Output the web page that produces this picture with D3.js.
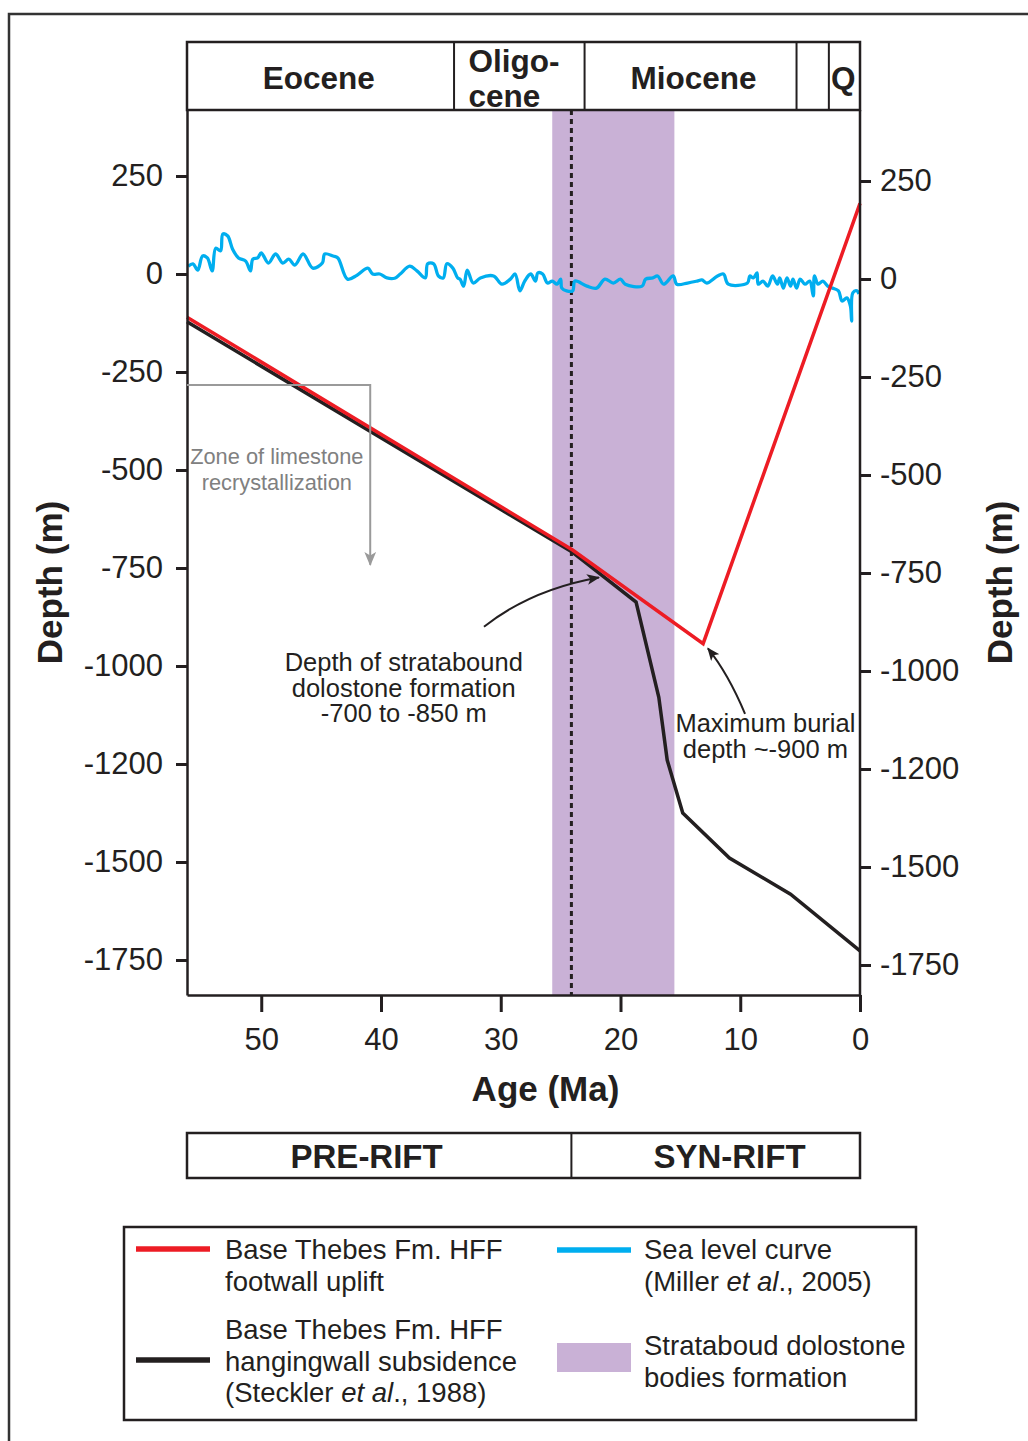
<!DOCTYPE html>
<html>
<head>
<meta charset="utf-8">
<script src="https://cdn.jsdelivr.net/npm/d3@7"></script>
<style>
    body { margin: 0; background: #fff; }
    svg text { font-family: "Liberation Sans", Arial, sans-serif; fill: #231f20; }
</style>
</head>
<body>
<div id="chart"></div>
<script>
// ages in Ma, depths in m
const footwallAge = [56.2, 24.0, 13.1, 0];
const footwallDepth = [-110, -704, -943, 180];

const hangingAge = [56.2, 24.0, 18.7, 16.8, 16.1, 14.8, 10.9, 5.8, 0];
const hangingDepth = [-122, -710, -837, -1080, -1240, -1375, -1490, -1582, -1727];

const seaAge = [56.1, 55.7, 55.3, 54.9, 54.5, 54.1, 53.8, 53.4, 53.2, 52.8,
    52.4, 51.9, 51.3, 50.9, 50.7, 50.3, 50.0, 49.4, 48.8, 48.2,
    47.7, 47.2, 46.5, 45.7, 44.9, 44.7, 44.0, 43.6, 42.8, 42.0,
    41.1, 40.7, 40.1, 39.5, 38.8, 38.4, 37.6, 37.0, 36.3, 36.1,
    35.6, 35.2, 34.8, 34.5, 34.0, 33.6, 33.4, 33.1, 32.8, 32.3,
    31.7, 30.6, 29.9, 29.2, 28.8, 28.4, 28.0, 27.5, 27.1, 26.9,
    26.5, 26.1, 25.7, 25.3, 25.0, 24.9, 24.5, 24.0, 23.8, 22.8,
    22.0, 21.3, 20.6, 20.0, 19.6, 18.2, 17.9, 17.3, 16.9, 16.4,
    15.6, 15.3, 14.4, 13.6, 13.2, 12.8, 11.9, 11.4, 11.0, 9.4,
    9.2, 8.9, 8.6, 8.5, 8.1, 7.7, 7.3, 6.9, 6.7, 6.4,
    6.1, 5.8, 5.6, 5.3, 5.0, 4.6, 4.2, 3.9, 3.8, 3.5,
    3.1, 2.7, 2.3, 1.8, 1.5, 1.1, 0.8, 0.7, 0.6, 0.25, 0.1];
const seaLevel = [20, 26, 10, 46, 41, 8, 66, 59, 102, 97,
    64, 41, 33, 8, 38, 41, 54, 28, 51, 28,
    38, 23, 51, 15, 28, 51, 46, 41, -13, -3,
    15, 0, 0, -10, -10, 0, 20, 8, -10, 26,
    26, -5, -10, 26, 15, -10, -13, -31, 10, -23,
    -10, -5, -26, -13, 0, -43, -18, 0, -18, 3,
    0, -23, -18, -26, -13, -36, -43, -43, -18, -31,
    -36, -13, -23, -13, -26, -31, -13, -10, -5, -26,
    -5, -26, -23, -18, -15, -23, -5, 0, -26, -23,
    -5, -10, 3, -26, -18, -31, -5, -26, -10, -36,
    -10, -31, -13, -36, -13, -26, -18, -56, -5, -26,
    -18, -31, -36, -43, -69, -61, -82, -120, -48, -43, -51];

const epochBounds = [56.2, 33.9, 23.0, 5.3, 2.6, 0];
const epochNames = ['Eocene', 'Oligo-|cene', 'Miocene', '', 'Q'];
const epochLabelAge = [45.2, 32.7, 13.9, 4.0, 1.4];

const riftBounds = [56.2, 24.1, 0];
const riftNames = ['PRE-RIFT', 'SYN-RIFT'];
const riftLabelAge = [41.2, 10.9];

const dolostoneBand = [25.7, 15.5];
const riftOnset = 24.1;

const depthTicks = [250, 0, -250, -500, -750, -1000, -1250, -1500, -1750];
const depthTickLabels = ['250', '0', '-250', '-500', '-750', '-1000', '-1200', '-1500', '-1750'];
const ageTicks = [50, 40, 30, 20, 10, 0];

const W = 1028, H = 1441;
const svg = d3.select('#chart').append('svg')
    .attr('width', W)
    .attr('height', H);

const x = d3.scaleLinear().domain([56.2, 0]).range([187, 860]);
const y = d3.scaleLinear().domain([418.4, -1839.3]).range([110, 995]);
// right axis is drawn a few pixels lower in the original
const yRight = d3.scaleLinear().domain([418.4, -1839.3]).range([115, 1000]);

// outer frame
svg.append('rect')
    .attr('x', 9).attr('y', 14)
    .attr('width', W + 20).attr('height', H + 20)
    .attr('fill', 'none')
    .attr('stroke', '#333').attr('stroke-width', 2.5);

const defs = svg.append('defs');
defs.append('marker')
    .attr('id', 'arrBlack')
    .attr('viewBox', '0 0 12 10')
    .attr('refX', 11).attr('refY', 5)
    .attr('markerWidth', 13).attr('markerHeight', 11)
    .attr('markerUnits', 'userSpaceOnUse')
    .attr('orient', 'auto')
    .append('path')
    .attr('d', 'M0,0 L12,5 L0,10 L3,5 Z')
    .attr('fill', '#231f20');
defs.append('marker')
    .attr('id', 'arrGray')
    .attr('viewBox', '0 0 12 10')
    .attr('refX', 11).attr('refY', 5)
    .attr('markerWidth', 14).attr('markerHeight', 12)
    .attr('markerUnits', 'userSpaceOnUse')
    .attr('orient', 'auto')
    .append('path')
    .attr('d', 'M0,0 L12,5 L0,10 L3,5 Z')
    .attr('fill', '#9a9a9a');

// dolostone band
svg.append('rect')
    .attr('x', x(dolostoneBand[0]))
    .attr('y', y.range()[0])
    .attr('width', x(dolostoneBand[1]) - x(dolostoneBand[0]))
    .attr('height', y.range()[1] - y.range()[0])
    .attr('fill', '#c9b1d6');

// rift onset dotted line
svg.append('line')
    .attr('x1', x(riftOnset)).attr('x2', x(riftOnset))
    .attr('y1', y.range()[0]).attr('y2', y.range()[1])
    .attr('stroke', '#231f20')
    .attr('stroke-width', 3)
    .attr('stroke-dasharray', '5,4');

// sea level
const seaData = seaAge.map((a, i) => [a, seaLevel[i]]);
svg.append('path')
    .datum(seaData)
    .attr('d', d3.line().x(d => x(d[0])).y(d => y(d[1])).curve(d3.curveCatmullRom.alpha(0.5)))
    .attr('fill', 'none')
    .attr('stroke', '#00aeef')
    .attr('stroke-width', 3.3)
    .attr('stroke-linejoin', 'round');

// subsidence curves
const line = d3.line().x(d => x(d[0])).y(d => y(d[1]));
svg.append('path')
    .datum(hangingAge.map((a, i) => [a, hangingDepth[i]]))
    .attr('d', line)
    .attr('fill', 'none')
    .attr('stroke', '#231f20')
    .attr('stroke-width', 3.5);
svg.append('path')
    .datum(footwallAge.map((a, i) => [a, footwallDepth[i]]))
    .attr('d', line)
    .attr('fill', 'none')
    .attr('stroke', '#ed1c24')
    .attr('stroke-width', 3.5);

// axes
const fmtDepth = (d, i) => depthTickLabels[i];
const yAxisL = svg.append('g')
    .attr('transform', `translate(${x.range()[0]},0)`)
    .call(d3.axisLeft(y).tickValues(depthTicks).tickFormat(fmtDepth).tickSize(11).tickPadding(13).tickSizeOuter(0));
const yAxisR = svg.append('g')
    .attr('transform', `translate(${x.range()[1]},0)`)
    .call(d3.axisRight(yRight).tickValues(depthTicks).tickFormat(fmtDepth).tickSize(11).tickPadding(9).tickSizeOuter(0));
const xAxis = svg.append('g')
    .attr('transform', `translate(0,${y.range()[1]})`)
    .call(d3.axisBottom(x).tickValues(ageTicks).tickFormat(d3.format('d')).tickSize(17).tickPadding(16).tickSizeOuter(0));

[yAxisL, yAxisR, xAxis].forEach(g => {
    g.select('.domain').attr('stroke', '#231f20').attr('stroke-width', 2.5);
    g.selectAll('.tick line').attr('stroke', '#231f20').attr('stroke-width', 3);
    g.selectAll('.tick text')
        .attr('font-size', 31)
        .attr('font-family', '"Liberation Sans", Arial, sans-serif')
        .attr('fill', '#231f20');
});
// right axis line spans the plot frame
yAxisR.select('.domain').remove();
svg.append('line')
    .attr('x1', x.range()[1]).attr('x2', x.range()[1])
    .attr('y1', y.range()[0]).attr('y2', y.range()[1])
    .attr('stroke', '#231f20').attr('stroke-width', 2.5);

// axis titles
const midY = (y.range()[0] + y.range()[1]) / 2 + 30;
[62, 1012].forEach(tx => {
    svg.append('text')
        .attr('transform', `translate(${tx},${midY}) rotate(-90)`)
        .attr('text-anchor', 'middle')
        .attr('font-size', 35).attr('font-weight', 'bold')
        .text('Depth (m)');
});
svg.append('text')
    .attr('x', (x.range()[0] + x.range()[1]) / 2 + 22)
    .attr('y', 1101)
    .attr('text-anchor', 'middle')
    .attr('font-size', 35).attr('font-weight', 'bold')
    .text('Age (Ma)');

// epoch bar
const epochTop = 42;
const epochG = svg.append('g');
epochG.append('rect')
    .attr('x', x.range()[0]).attr('y', epochTop)
    .attr('width', x.range()[1] - x.range()[0])
    .attr('height', y.range()[0] - epochTop)
    .attr('fill', 'none').attr('stroke', '#231f20').attr('stroke-width', 2.5);
epochG.selectAll('.div')
    .data(epochBounds.slice(1, -1))
    .enter().append('line')
    .attr('x1', d => x(d)).attr('x2', d => x(d))
    .attr('y1', epochTop).attr('y2', y.range()[0])
    .attr('stroke', '#231f20').attr('stroke-width', 2);
epochNames.forEach((name, i) => {
    if (!name) return;
    const parts = name.split('|');
    const t = epochG.append('text')
        .attr('font-size', 31.5).attr('font-weight', 'bold')
        .attr('text-anchor', parts.length > 1 ? 'start' : 'middle');
    if (parts.length > 1) {
        parts.forEach((p, j) => {
            t.append('tspan')
                .attr('x', x(epochLabelAge[i]))
                .attr('y', 72 + j * 35)
                .text(p);
        });
    } else {
        t.attr('x', x(epochLabelAge[i])).attr('y', 89).text(name);
    }
});

// rift bar
const riftTop = 1133, riftBottom = 1178;
svg.append('rect')
    .attr('x', x.range()[0]).attr('y', riftTop)
    .attr('width', x.range()[1] - x.range()[0])
    .attr('height', riftBottom - riftTop)
    .attr('fill', 'none').attr('stroke', '#231f20').attr('stroke-width', 2.5);
svg.append('line')
    .attr('x1', x(riftBounds[1])).attr('x2', x(riftBounds[1]))
    .attr('y1', riftTop).attr('y2', riftBottom)
    .attr('stroke', '#231f20').attr('stroke-width', 2);
svg.selectAll('.rift')
    .data(riftNames)
    .enter().append('text')
    .attr('x', (d, i) => x(riftLabelAge[i]))
    .attr('y', 1168)
    .attr('text-anchor', 'middle')
    .attr('font-size', 33).attr('font-weight', 'bold')
    .text(d => d);

// zone of limestone recrystallization
svg.append('path')
    .attr('d', `M${x(56.2)},${y(-283)} H${x(40.9)} V${y(-742)}`)
    .attr('fill', 'none')
    .attr('stroke', '#9a9a9a').attr('stroke-width', 2)
    .attr('marker-end', 'url(#arrGray)');
const zoneText = svg.append('text')
    .attr('text-anchor', 'middle')
    .attr('font-size', 21.8)
    .style('fill', '#808080');
['Zone of limestone', 'recrystallization'].forEach((s, i) => {
    zoneText.append('tspan').attr('x', x(48.7)).attr('y', 464 + i * 26).text(s);
});

// stratabound dolostone annotation
const dolText = svg.append('text').attr('text-anchor', 'middle').attr('font-size', 25.5);
['Depth of stratabound', 'dolostone formation', '-700 to -850 m'].forEach((s, i) => {
    dolText.append('tspan').attr('x', x(38.1)).attr('y', 671 + i * 25.5).text(s);
});
svg.append('path')
    .attr('d', `M${x(31.4)},${y(-900)} Q${x(27.5)},${y(-805)} ${x(21.8)},${y(-774)}`)
    .attr('fill', 'none')
    .attr('stroke', '#231f20').attr('stroke-width', 2)
    .attr('marker-end', 'url(#arrBlack)');

// maximum burial annotation
const maxText = svg.append('text').attr('text-anchor', 'middle').attr('font-size', 25.5);
['Maximum burial', 'depth ~-900 m'].forEach((s, i) => {
    maxText.append('tspan').attr('x', x(7.9)).attr('y', 732 + i * 26).text(s);
});
svg.append('path')
    .attr('d', `M${x(9.6)},${y(-1122)} Q${x(11.0)},${y(-1020)} ${x(12.7)},${y(-955)}`)
    .attr('fill', 'none')
    .attr('stroke', '#231f20').attr('stroke-width', 2)
    .attr('marker-end', 'url(#arrBlack)');

// legend
const legend = svg.append('g');
legend.append('rect')
    .attr('x', 124).attr('y', 1227)
    .attr('width', 792).attr('height', 193)
    .attr('fill', 'none').attr('stroke', '#231f20').attr('stroke-width', 2.5);

function legendText(x0, y0, lines) {
    const t = legend.append('text').attr('font-size', 27.5);
    lines.forEach((parts, i) => {
        const ts = t.append('tspan').attr('x', x0).attr('y', y0 + i * 31.5);
        parts.forEach(p => {
            const s = ts.append('tspan').text(p.t || p);
            if (p.i) s.attr('font-style', 'italic');
        });
    });
}

legend.append('line').attr('x1', 136).attr('x2', 210).attr('y1', 1249).attr('y2', 1249)
    .attr('stroke', '#ed1c24').attr('stroke-width', 5.5);
legendText(225, 1259, [['Base Thebes Fm. HFF'], ['footwall uplift']]);

legend.append('line').attr('x1', 136).attr('x2', 210).attr('y1', 1360).attr('y2', 1360)
    .attr('stroke', '#231f20').attr('stroke-width', 5.5);
legendText(225, 1339, [['Base Thebes Fm. HFF'], ['hangingwall subsidence'],
    ['(Steckler ', {t: 'et al', i: true}, '., 1988)']]);

legend.append('line').attr('x1', 557).attr('x2', 631).attr('y1', 1250).attr('y2', 1250)
    .attr('stroke', '#00aeef').attr('stroke-width', 5.5);
legendText(644, 1259, [['Sea level curve'], ['(Miller ', {t: 'et al', i: true}, '., 2005)']]);

legend.append('rect').attr('x', 557).attr('y', 1343).attr('width', 74).attr('height', 29)
    .attr('fill', '#c9b1d6');
legendText(644, 1355, [['Strataboud dolostone'], ['bodies formation']]);
</script>
</body>
</html>
